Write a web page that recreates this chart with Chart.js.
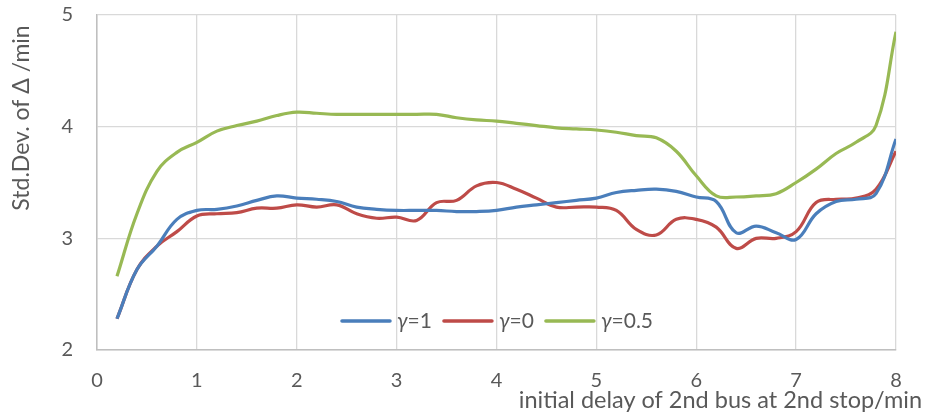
<!DOCTYPE html>
<html>
<head>
<meta charset="utf-8">
<script src="https://cdn.jsdelivr.net/npm/chart.js@4.4.1/dist/chart.umd.min.js"></script>
<style>
  html, body { margin: 0; padding: 0; background: #fff; }
  canvas { display: block; }
</style>
</head>
<body>
<canvas id="chart" width="926" height="419"></canvas>
<script>
// initial delay (min)
const delays = [0.2, 0.4, 0.6, 0.8, 1.0, 1.2, 1.4, 1.6, 1.8, 2.0,
  2.2, 2.4, 2.6, 2.8, 3.0, 3.2, 3.4, 3.6, 3.8, 4.0,
  4.2, 4.4, 4.6, 4.8, 5.0, 5.2, 5.4, 5.6, 5.8, 6.0,
  6.2, 6.4, 6.6, 6.8, 7.0, 7.2, 7.4, 7.6, 7.8, 8.0];

const gamma1 = [2.28, 2.72, 2.93, 3.17, 3.25, 3.26, 3.29, 3.34, 3.38, 3.36,
  3.35, 3.33, 3.28, 3.26, 3.25, 3.25, 3.25, 3.24, 3.24, 3.25,
  3.28, 3.30, 3.32, 3.34, 3.36, 3.41, 3.43, 3.44, 3.42, 3.37,
  3.33, 3.05, 3.11, 3.05, 2.99, 3.22, 3.33, 3.35, 3.40, 3.89];

const gamma0 = [2.28, 2.72, 2.93, 3.06, 3.20, 3.22, 3.23, 3.27, 3.27, 3.30,
  3.28, 3.30, 3.22, 3.18, 3.19, 3.16, 3.32, 3.34, 3.47, 3.50,
  3.44, 3.36, 3.28, 3.28, 3.28, 3.25, 3.08, 3.03, 3.17, 3.17,
  3.10, 2.91, 3.00, 3.00, 3.06, 3.32, 3.35, 3.36, 3.44, 3.78];

const gammaHalf = [2.66, 3.22, 3.60, 3.77, 3.86, 3.96, 4.01, 4.05, 4.10, 4.13,
  4.12, 4.11, 4.11, 4.11, 4.11, 4.11, 4.11, 4.08, 4.06, 4.05,
  4.03, 4.01, 3.99, 3.98, 3.97, 3.95, 3.92, 3.90, 3.78, 3.56,
  3.38, 3.37, 3.38, 3.40, 3.50, 3.62, 3.76, 3.86, 4.01, 4.85];

const seriesLabels = ["γ=1", "γ=0", "γ=0.5"];
const seriesColors = ["#4a7ebb", "#be4b48", "#98b954"];

const xTitle = "initial delay of 2nd bus at 2nd stop/min";
const yTitle = "Std.Dev. of Δ /min";

const FONT = "Lato, 'Noto Sans', sans-serif";
const TEXT = "#595959";

function toPoints(ys) {
  return delays.map((x, i) => ({ x: x, y: ys[i] }));
}

// legend sits inside the plot, near the bottom
const insideLegend = {
  id: "insideLegend",
  afterDraw(chart) {
    const { ctx, chartArea } = chart;
    const y = chartArea.bottom - 29;
    const lineLen = 52, gapTxt = 5, gapItem = 10;
    ctx.save();
    ctx.textBaseline = "middle";
    const items = chart.data.datasets.map(ds => {
      const g = ds.label.slice(0, 1), rest = ds.label.slice(1);
      ctx.font = "italic 21px " + FONT;
      const gw = ctx.measureText(g).width;
      ctx.font = "21px " + FONT;
      const rw = ctx.measureText(rest).width;
      return { g, rest, gw, rw, color: ds.borderColor };
    });
    let total = 0;
    items.forEach((it, i) => {
      total += lineLen + gapTxt + it.gw + it.rw + (i < items.length - 1 ? gapItem : 0);
    });
    let x = (chartArea.left + chartArea.right) / 2 - total / 2;
    items.forEach(it => {
      ctx.strokeStyle = it.color;
      ctx.lineWidth = 3.5;
      ctx.lineCap = "round";
      ctx.beginPath();
      ctx.moveTo(x + 2, y);
      ctx.lineTo(x + lineLen - 2, y);
      ctx.stroke();
      x += lineLen + gapTxt;
      ctx.fillStyle = TEXT;
      ctx.textAlign = "left";
      ctx.font = "italic 21px " + FONT;
      ctx.fillText(it.g, x, y);
      x += it.gw;
      ctx.font = "21px " + FONT;
      ctx.fillText(it.rest, x, y);
      x += it.rw + gapItem;
    });
    ctx.restore();
  }
};

// axis titles placed like the original
const axisTitles = {
  id: "axisTitles",
  afterDraw(chart) {
    const { ctx } = chart;
    ctx.save();
    ctx.fillStyle = TEXT;
    ctx.font = "23.5px " + FONT;
    ctx.textAlign = "right";
    ctx.textBaseline = "alphabetic";
    ctx.fillText(xTitle, 922, 408);

    ctx.font = "23px " + FONT;
    ctx.translate(22, 118);
    ctx.rotate(-Math.PI / 2);
    ctx.textAlign = "center";
    ctx.textBaseline = "middle";
    ctx.fillText(yTitle, 0, 0);
    ctx.restore();
  }
};

new Chart(document.getElementById("chart").getContext("2d"), {
  type: "line",
  data: {
    datasets: [0, 1, 2].map(i => ({
      label: seriesLabels[i],
      data: toPoints([gamma1, gamma0, gammaHalf][i]),
      borderColor: seriesColors[i],
      backgroundColor: seriesColors[i],
      borderWidth: 3.2,
      pointRadius: 0,
      tension: 0.4,
      fill: false,
    })),
  },
  options: {
    responsive: false,
    animation: false,
    layout: { padding: { left: 0, right: 30, top: 15, bottom: 0 } },
    plugins: {
      legend: { display: false },
      tooltip: { enabled: false },
    },
    scales: {
      x: {
        type: "linear",
        min: 0,
        max: 8,
        ticks: { stepSize: 1, color: TEXT, font: { family: FONT, size: 20 }, padding: 19, maxRotation: 0 },
        grid: { color: "#d9d9d9", drawTicks: false, lineWidth: 1.3 },
        border: { color: "#bfbfbf", width: 1.5 },
        afterFit: s => { s.height = 69; s.paddingLeft = 0; s.paddingRight = 0; },
      },
      y: {
        min: 2,
        max: 5,
        ticks: { stepSize: 1, color: TEXT, font: { family: FONT, size: 20 }, padding: 24 },
        grid: { color: "#d9d9d9", drawTicks: false, lineWidth: 1.3 },
        border: { color: "#bfbfbf", width: 1.5 },
        afterFit: s => { s.width = 97; s.paddingTop = 0; s.paddingBottom = 0; },
      },
    },
  },
  plugins: [insideLegend, axisTitles],
});
</script>
</body>
</html>
